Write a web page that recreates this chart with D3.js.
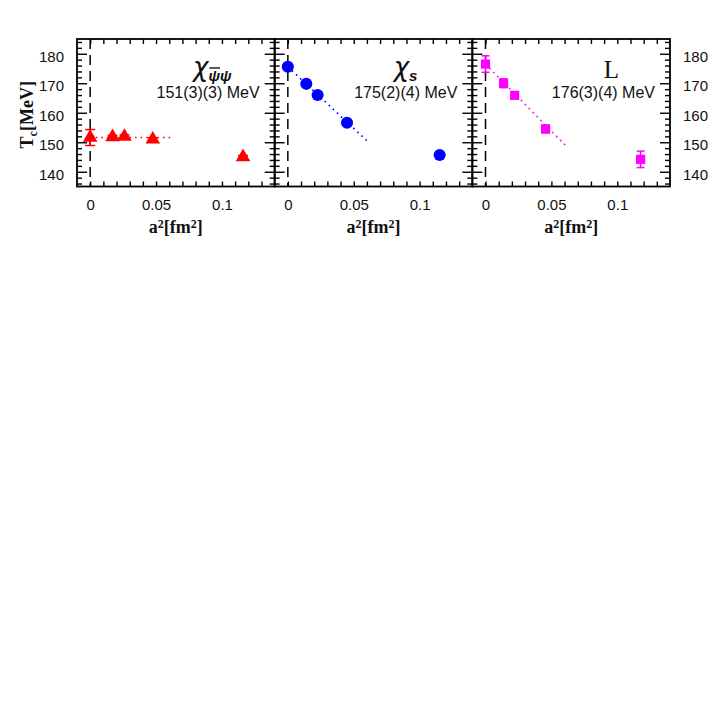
<!DOCTYPE html>
<html><head><meta charset="utf-8">
<script src="https://cdn.jsdelivr.net/npm/d3@7"></script>
<style>body{margin:0;background:#fff}</style></head>
<body><svg id="c" width="708" height="708"></svg>
<script>
// ---- data ----
const resultLabels = ["151(3)(3) MeV", "175(2)(4) MeV", "176(3)(4) MeV"];
const colors = ["#ff0000", "#0000ff", "#ff00ff"];
const markerShapes = ["triangle", "circle", "square"];
const a2Red = [0, 0.017, 0.026, 0.0475, 0.116];
const tcRed = [151.6, 151.8, 151.9, 151.0, 145.0];
const errRed = [2.7, 0.5, 0.6, 0.5, 0.5];
const a2Blue = [0, 0.014, 0.0226, 0.0449, 0.1152];
const tcBlue = [175.6, 169.8, 166.0, 156.6, 145.7];
const errBlue = [1.2, 0.8, 0.8, 0.8, 0.8];
const a2Mag = [0, 0.0137, 0.0221, 0.0456, 0.1177];
const tcMag = [176.5, 170.0, 165.9, 154.5, 144.2];
const errMag = [2.8, 1.5, 0.8, 1.3, 2.8];
const fitA2 = [0, 0.061];
const fitRed = [151.6, 151.6];
const fitBlue = [175.6, 150.1];
const fitMag = [176.5, 148.8];
const xTickLabels = [0, 0.05, 0.1];
const yTickLabels = [140, 150, 160, 170, 180];
const xDomain = [-0.01, 0.14];
const yDomain = [135, 185];

const series = [
  {a2: a2Red, tc: tcRed, err: errRed, fit: fitRed},
  {a2: a2Blue, tc: tcBlue, err: errBlue, fit: fitBlue},
  {a2: a2Mag, tc: tcMag, err: errMag, fit: fitMag}
];

// ---- layout ----
const padL = 77, padR = 670, topY = 39, botY = 186.5;
const pw = (padR - padL) / 3;
const svg = d3.select("#c");
const x = d3.scaleLinear().domain(xDomain).range([0, pw]);
const y = d3.scaleLinear().domain(yDomain).range([botY, topY]);
const xMinor = d3.range(0, 0.1351, 0.01);
const yMinor = d3.range(136, 185, 2).filter(v => v % 10 !== 0);
const sansFont = "'Liberation Sans', Arial, sans-serif";
const serifFont = "'Liberation Serif', 'Times New Roman', serif";

function styleTicks(g) {
  g.select(".domain").remove();
  g.selectAll("line").attr("stroke", "#000").attr("stroke-width", 1.4);
}

series.forEach((s, i) => {
  const g = svg.append("g").attr("transform", `translate(${padL + i * pw},0)`);

  g.append("line").attr("x1", x(0)).attr("x2", x(0)).attr("y1", topY).attr("y2", botY)
    .attr("stroke", "#000").attr("stroke-width", 1.5).attr("stroke-dasharray", "10,6");

  g.append("g").call(d3.axisRight(y).tickValues(yMinor).tickSize(5).tickFormat("")).call(styleTicks);
  g.append("g").call(d3.axisRight(y).tickValues(yTickLabels).tickSize(10).tickFormat("")).call(styleTicks);
  g.append("g").attr("transform", `translate(${pw},0)`)
    .call(d3.axisLeft(y).tickValues(yMinor).tickSize(5).tickFormat("")).call(styleTicks);
  g.append("g").attr("transform", `translate(${pw},0)`)
    .call(d3.axisLeft(y).tickValues(yTickLabels).tickSize(10).tickFormat("")).call(styleTicks);
  g.append("g").attr("transform", `translate(0,${topY})`)
    .call(d3.axisBottom(x).tickValues(xMinor).tickSize(5).tickFormat("")).call(styleTicks);
  g.append("g").attr("transform", `translate(0,${botY})`)
    .call(d3.axisTop(x).tickValues(xMinor).tickSize(5).tickFormat("")).call(styleTicks);

  const xl = g.append("g").attr("transform", `translate(0,${botY})`)
    .call(d3.axisBottom(x).tickValues(xTickLabels).tickSize(0).tickPadding(13)
      .tickFormat(d => String(d)));
  xl.select(".domain").remove();
  xl.selectAll("text").attr("font-family", sansFont).attr("font-size", 15).attr("fill", "#111");

  g.append("rect").attr("x", 0).attr("y", topY).attr("width", pw).attr("height", botY - topY)
    .attr("fill", "none").attr("stroke", "#000").attr("stroke-width", 1.8);

  const xt = g.append("text").attr("x", pw / 2).attr("y", 233).attr("text-anchor", "middle")
    .attr("font-family", serifFont).attr("font-weight", "bold").attr("font-size", 18).attr("fill", "#111");
  xt.append("tspan").text("a");
  xt.append("tspan").attr("dy", -5).attr("font-size", 12).text("2");
  xt.append("tspan").attr("dy", 5).text("[fm");
  xt.append("tspan").attr("dy", -5).attr("font-size", 12).text("2");
  xt.append("tspan").attr("dy", 5).text("]");

  g.append("line").attr("x1", x(fitA2[0])).attr("x2", x(fitA2[1]))
    .attr("y1", y(s.fit[0])).attr("y2", y(s.fit[1]))
    .attr("stroke", colors[i]).attr("stroke-width", 1.6).attr("stroke-dasharray", "1.6,4");

  const pts = s.a2.map((a, k) => ({a, t: s.tc[k], e: s.err[k]}));
  const capW = i === 0 ? 5 : 4;
  const eb = g.append("g").attr("stroke", colors[i]).attr("stroke-width", 1.5);
  pts.forEach(p => {
    eb.append("line").attr("x1", x(p.a)).attr("x2", x(p.a)).attr("y1", y(p.t - p.e)).attr("y2", y(p.t + p.e));
    eb.append("line").attr("x1", x(p.a) - capW).attr("x2", x(p.a) + capW).attr("y1", y(p.t - p.e)).attr("y2", y(p.t - p.e));
    eb.append("line").attr("x1", x(p.a) - capW).attr("x2", x(p.a) + capW).attr("y1", y(p.t + p.e)).attr("y2", y(p.t + p.e));
  });

  const sym = markerShapes[i] === "triangle" ? d3.symbol(d3.symbolTriangle, 92)
    : markerShapes[i] === "circle" ? d3.symbol(d3.symbolCircle, 115)
    : d3.symbol(d3.symbolSquare, 84);
  g.selectAll("path.m").data(pts).join("path").attr("class", "m")
    .attr("d", sym).attr("transform", p => `translate(${x(p.a)},${y(p.t)})`)
    .attr("fill", colors[i]);

  g.append("text").attr("x", pw - 15).attr("y", 98).attr("text-anchor", "end")
    .attr("font-family", sansFont).attr("font-size", 16).attr("fill", "#111")
    .text(resultLabels[i]);
});

function chiLabel(px, py, subs, bars) {
  const t = svg.append("text").attr("x", px).attr("y", py)
    .attr("font-family", "'DejaVu Sans', sans-serif").attr("font-style", "italic")
    .attr("font-size", 26).attr("fill", "#111").text("χ");
  let cx = px + t.node().getComputedTextLength();
  subs.forEach((c, k) => {
    const st = svg.append("text").attr("x", cx).attr("y", py + 5)
      .attr("font-family", sansFont).attr("font-weight", "bold").attr("font-style", "italic")
      .attr("font-size", 15).attr("fill", "#111").text(c);
    const w = st.node().getComputedTextLength();
    if (bars[k]) {
      svg.append("line").attr("x1", cx + 1).attr("x2", cx + w).attr("y1", py - 8).attr("y2", py - 8)
        .attr("stroke", "#111").attr("stroke-width", 1.4);
    }
    cx += w;
  });
}
chiLabel(padL + 116, 76, ["ψ", "ψ"], [true, false]);
chiLabel(padL + pw + 119, 76, ["s"], [false]);
svg.append("text").attr("x", padL + 2 * pw + 139).attr("y", 78).attr("text-anchor", "middle")
  .attr("font-family", serifFont).attr("font-size", 25).attr("fill", "#111").text("L");

const yl = svg.append("g").attr("transform", `translate(${padL},0)`)
  .call(d3.axisLeft(y).tickValues(yTickLabels).tickSize(0).tickPadding(13));
yl.select(".domain").remove();
yl.selectAll("text").attr("font-family", sansFont).attr("font-size", 15).attr("fill", "#111").attr("dy", "0.5em");
const yr = svg.append("g").attr("transform", `translate(${padR},0)`)
  .call(d3.axisRight(y).tickValues(yTickLabels).tickSize(0).tickPadding(13));
yr.select(".domain").remove();
yr.selectAll("text").attr("font-family", sansFont).attr("font-size", 15).attr("fill", "#111").attr("dy", "0.5em");

const yt = svg.append("text").attr("transform", `translate(33,${(topY + botY) / 2 + 2}) rotate(-90)`)
  .attr("text-anchor", "middle").attr("font-family", serifFont).attr("font-weight", "bold")
  .attr("font-size", 18).attr("fill", "#111");
yt.append("tspan").text("T");
yt.append("tspan").attr("dy", 4).attr("font-size", 12).text("c");
yt.append("tspan").attr("dy", -4).text("[MeV]");
</script></body></html>
